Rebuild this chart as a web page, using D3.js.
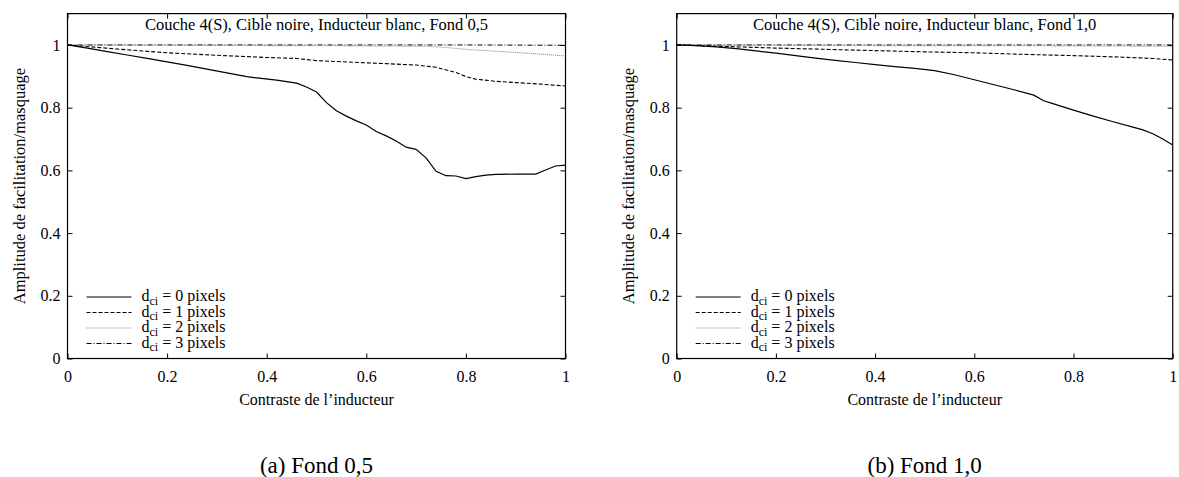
<!DOCTYPE html>
<html>
<head>
<meta charset="utf-8">
<script src="https://cdn.jsdelivr.net/npm/d3@7"></script>
<style>
  html, body { margin: 0; padding: 0; background: #fff; }
  svg { display: block; }
  text { font-family: "Liberation Serif", "Times New Roman", "DejaVu Serif", serif; fill: #000; }
</style>
</head>
<body>
<svg id="chart" width="1179" height="477"></svg>
<script>
// ---------- Data ----------
const xTicks = [0, 0.2, 0.4, 0.6, 0.8, 1];
const yTicks = [0, 0.2, 0.4, 0.6, 0.8, 1];
const xTickLabels = ["0", "0.2", "0.4", "0.6", "0.8", "1"];
const yTickLabels = ["0", "0.2", "0.4", "0.6", "0.8", "1"];
const legendLabels = ["0", "1", "2", "3"];

const panelTitles = ["Couche 4(S), Cible noire, Inducteur blanc, Fond 0,5",
                     "Couche 4(S), Cible noire, Inducteur blanc, Fond 1,0"];
const captions = ["(a) Fond 0,5", "(b) Fond 1,0"];
const xLabel = "Contraste de l\u2019inducteur";
const yLabel = "Amplitude de facilitation/masquage";

// Panel (a) Fond 0,5
const contrastA0 = [0, 0.04, 0.08, 0.12, 0.16, 0.20, 0.24, 0.28, 0.32, 0.36, 0.38, 0.42, 0.46, 0.48, 0.50, 0.52, 0.54, 0.56, 0.58, 0.60, 0.62, 0.64, 0.66, 0.68, 0.70, 0.72, 0.74, 0.76, 0.78, 0.80, 0.82, 0.84, 0.86, 0.90, 0.94, 0.96, 0.98, 1.00];
const ampA0 = [1.0, 0.990, 0.979, 0.968, 0.957, 0.946, 0.935, 0.923, 0.911, 0.899, 0.895, 0.888, 0.878, 0.866, 0.850, 0.816, 0.790, 0.773, 0.758, 0.745, 0.724, 0.710, 0.694, 0.674, 0.667, 0.640, 0.597, 0.583, 0.582, 0.574, 0.580, 0.585, 0.587, 0.588, 0.588, 0.601, 0.614, 0.617];

const contrastA1 = [0, 0.1, 0.2, 0.3, 0.4, 0.46, 0.5, 0.6, 0.7, 0.74, 0.78, 0.8, 0.82, 0.86, 0.9, 0.95, 1.0];
const ampA1 = [1.0, 0.987, 0.975, 0.967, 0.960, 0.957, 0.950, 0.943, 0.936, 0.929, 0.912, 0.899, 0.891, 0.884, 0.880, 0.875, 0.869];

const contrastA2 = [0, 0.2, 0.4, 0.6, 0.72, 0.76, 0.8, 0.86, 0.92, 1.0];
const ampA2 = [1.0, 0.999, 0.998, 0.997, 0.996, 0.992, 0.986, 0.980, 0.974, 0.965];

const contrastA3 = [0, 0.2, 0.4, 0.6, 0.8, 1.0];
const ampA3 = [1.0, 1.0, 1.0, 1.0, 1.0, 0.999];

// Panel (b) Fond 1,0
const contrastB0 = [0, 0.04, 0.08, 0.12, 0.16, 0.2, 0.24, 0.28, 0.32, 0.36, 0.4, 0.44, 0.48, 0.52, 0.56, 0.6, 0.64, 0.68, 0.72, 0.74, 0.76, 0.8, 0.84, 0.88, 0.92, 0.94, 0.96, 0.98, 1.0];
const ampB0 = [1.0, 0.998, 0.994, 0.988, 0.981, 0.974, 0.966, 0.958, 0.951, 0.944, 0.937, 0.931, 0.925, 0.918, 0.905, 0.889, 0.873, 0.857, 0.840, 0.822, 0.812, 0.792, 0.773, 0.755, 0.738, 0.729, 0.717, 0.700, 0.681];

const contrastB1 = [0, 0.1, 0.2, 0.3, 0.4, 0.5, 0.6, 0.7, 0.8, 0.9, 0.96, 1.0];
const ampB1 = [1.0, 0.995, 0.990, 0.986, 0.982, 0.978, 0.975, 0.970, 0.966, 0.961, 0.957, 0.952];

const contrastB2 = [0, 0.2, 0.4, 0.6, 0.8, 1.0];
const ampB2 = [1.0, 0.999, 0.998, 0.998, 0.997, 0.996];

const contrastB3 = [0, 0.2, 0.4, 0.6, 0.8, 1.0];
const ampB3 = [1.0, 1.0, 1.0, 1.0, 1.0, 1.0];

// ---------- Styles ----------
const seriesStyles = [
  { stroke: "#000", width: 1.2, dash: null },
  { stroke: "#000", width: 1.1, dash: "4,2" },
  { stroke: "#888", width: 1.1, dash: "1,1" },
  { stroke: "#000", width: 1.0, dash: "5,2,1,2" }
];

const panels = [
  { left: 67.5, right: 565.5, title: panelTitles[0], caption: captions[0],
    series: [[contrastA0, ampA0], [contrastA1, ampA1], [contrastA2, ampA2], [contrastA3, ampA3]] },
  { left: 676.7, right: 1172.7, title: panelTitles[1], caption: captions[1],
    series: [[contrastB0, ampB0], [contrastB1, ampB1], [contrastB2, ampB2], [contrastB3, ampB3]] }
];

const svg = d3.select("#chart");
const yTop = 13.6, yBottom = 358.5;
const baseFont = "16px";

panels.forEach(p => {
  const g = svg.append("g");
  const x = d3.scaleLinear().domain([0, 1]).range([p.left, p.right]);
  const y = d3.scaleLinear().domain([0, 1.1]).range([yBottom, yTop]);

  const tickLen = 5;
  const bottomAxis = d3.axisBottom(x).tickValues(xTicks).tickSizeInner(-tickLen).tickSizeOuter(0)
    .tickPadding(12).tickFormat((d, i) => xTickLabels[i]);
  const topAxis = d3.axisTop(x).tickValues(xTicks).tickSizeInner(-tickLen).tickSizeOuter(0).tickFormat("");
  const leftAxis = d3.axisLeft(y).tickValues(yTicks).tickSizeInner(-tickLen).tickSizeOuter(0)
    .tickPadding(7).tickFormat((d, i) => yTickLabels[i]);
  const rightAxis = d3.axisRight(y).tickValues(yTicks).tickSizeInner(-tickLen).tickSizeOuter(0).tickFormat("");

  const axes = [
    g.append("g").attr("transform", `translate(0,${yBottom})`).call(bottomAxis),
    g.append("g").attr("transform", `translate(0,${yTop})`).call(topAxis),
    g.append("g").attr("transform", `translate(${p.left},0)`).call(leftAxis),
    g.append("g").attr("transform", `translate(${p.right},0)`).call(rightAxis)
  ];
  axes.forEach(a => {
    a.select(".domain").remove();
    a.selectAll(".tick line").attr("stroke", "#000").attr("stroke-width", 1);
    a.selectAll(".tick text").style("font-family", "'Liberation Serif', 'Times New Roman', serif")
      .style("font-size", baseFont).attr("fill", "#000");
  });

  // frame
  g.append("rect")
    .attr("x", p.left).attr("y", yTop)
    .attr("width", p.right - p.left).attr("height", yBottom - yTop)
    .attr("fill", "none").attr("stroke", "#000").attr("stroke-width", 1.2);

  // title inside
  g.append("text")
    .attr("x", (p.left + p.right) / 2).attr("y", 30)
    .attr("text-anchor", "middle").style("font-size", "16.5px")
    .text(p.title);

  // lines
  const line = d3.line().x(d => x(d[0])).y(d => y(d[1]));
  p.series.map((s, i) => i).reverse().forEach(i => {
    const [xs, ys] = p.series[i];
    const pts = xs.map((v, k) => [v, ys[k]]);
    const st = seriesStyles[i];
    g.append("path").datum(pts)
      .attr("d", line)
      .attr("fill", "none")
      .attr("stroke", st.stroke)
      .attr("stroke-width", st.width)
      .attr("stroke-dasharray", st.dash);
  });

  // legend
  const legX1 = p.left + 19, legX2 = p.left + 64, legTextX = p.left + 74;
  const legY0 = 297, legDy = 15.5;
  legendLabels.forEach((lab, i) => {
    const yy = legY0 + i * legDy;
    const st = seriesStyles[i];
    g.append("line").attr("x1", legX1).attr("x2", legX2).attr("y1", yy).attr("y2", yy)
      .attr("stroke", st.stroke).attr("stroke-width", st.width).attr("stroke-dasharray", st.dash);
    const t = g.append("text").attr("x", legTextX).attr("y", yy + 4).style("font-size", "16px");
    t.append("tspan").text("d");
    t.append("tspan").attr("dy", 3.5).style("font-size", "12px").text("ci");
    t.append("tspan").attr("dy", -3.5).text(" = " + lab + " pixels");
  });

  // x label
  g.append("text")
    .attr("x", (p.left + p.right) / 2).attr("y", 405)
    .attr("text-anchor", "middle").style("font-size", "16px")
    .text(xLabel);

  // y label
  const ly = (yTop + yBottom) / 2;
  const lx = p.left - 43;
  g.append("text")
    .attr("transform", `translate(${lx},${ly}) rotate(-90)`)
    .attr("text-anchor", "middle").style("font-size", "16.5px")
    .text(yLabel);

  // caption
  g.append("text")
    .attr("x", (p.left + p.right) / 2).attr("y", 473)
    .attr("text-anchor", "middle").style("font-size", "23px")
    .text(p.caption);
});
</script>
</body>
</html>
